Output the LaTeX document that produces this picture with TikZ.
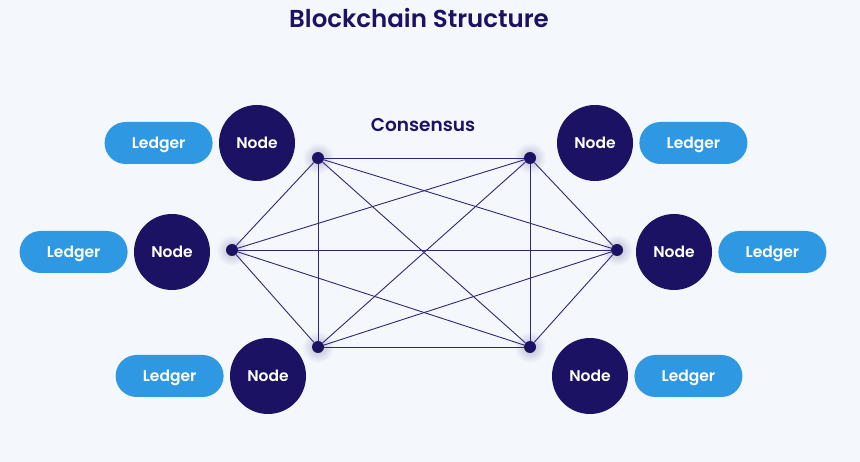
\documentclass[tikz,border=0pt]{standalone}
\usepackage{fontspec}
\setmainfont{Poppins}[BoldFont={Poppins SemiBold}]
\usetikzlibrary{positioning}
\definecolor{chainnavy}{HTML}{1B1263}
\definecolor{ledgerblue}{HTML}{2F98E2}
\definecolor{pagebg}{HTML}{F4F8FD}
\definecolor{linknavy}{HTML}{2E2874}
\tikzset{
    peer/.style={circle, fill=chainnavy, minimum size=76pt, inner sep=0pt,
        text=white, text depth=0pt, font=\fontsize{15.5}{18}\selectfont\bfseries},
    ledger/.style={fill=ledgerblue, rounded corners=21pt, minimum width=108pt,
        minimum height=42pt, inner sep=0pt, text=white, text depth=0pt,
        font=\fontsize{15.5}{18}\selectfont\bfseries},
    hub/.style={circle, fill=chainnavy, minimum size=12pt, inner sep=0pt},
    link/.style={draw=linknavy, line width=0.9pt}
}
\newcommand{\hubdot}[3]{
    \shade[inner color=chainnavy!30, outer color=pagebg] (#2,#3) circle (16pt);
    \node[hub] (#1) at (#2,#3) {};
}

\begin{document}
\begin{tikzpicture}[x=1pt,y=-1pt,node distance=6pt]
    \fill[pagebg] (0,0) rectangle (860,462);
    \useasboundingbox (0,0) rectangle (860,462);

    \node[text=chainnavy, font=\fontsize{24.5}{28}\selectfont\bfseries] (title) at (419,18) {Blockchain Structure};
    \node[text=chainnavy, font=\fontsize{18.5}{22}\selectfont\bfseries] (consensus) at (423,125) {Consensus};

    % consensus hubs
    \hubdot{htl}{318}{158}
    \hubdot{htr}{530}{158}
    \hubdot{hl}{232}{250}
    \hubdot{hr}{617}{250}
    \hubdot{hbl}{318}{347}
    \hubdot{hbr}{530}{347}

    % every hub talks to every other hub
    \foreach \a/\b in {htl/htr,htl/hl,htl/hr,htl/hbl,htl/hbr,
                       htr/hl,htr/hr,htr/hbl,htr/hbr,
                       hl/hr,hl/hbl,hl/hbr,
                       hr/hbl,hr/hbr,
                       hbl/hbr}
        \draw[link] (\a) -- (\b);

    % peers with their ledgers
    \node[peer] (ptl) at (257,143) {Node};
    \node[ledger, left=of ptl] (ltl) {Ledger};
    \node[peer] (pl) at (172,252) {Node};
    \node[ledger, left=of pl] (ll) {Ledger};
    \node[peer] (pbl) at (268,376) {Node};
    \node[ledger, left=of pbl] (lbl) {Ledger};

    \node[peer] (ptr) at (595,143) {Node};
    \node[ledger, right=of ptr] (ltr) {Ledger};
    \node[peer] (pr) at (674,252) {Node};
    \node[ledger, right=of pr] (lr) {Ledger};
    \node[peer] (pbr) at (590,376) {Node};
    \node[ledger, right=of pbr] (lbr) {Ledger};
\end{tikzpicture}
\end{document}
